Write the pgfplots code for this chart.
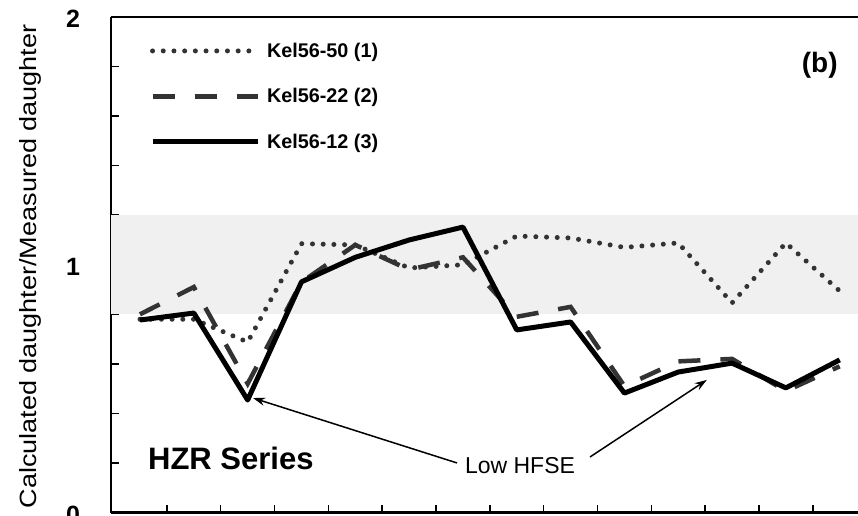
\documentclass[border=0pt]{standalone}
\usepackage{fontspec}
\setmainfont{Liberation Sans}
\usepackage{graphicx}
\usepackage{pgfplots}
\pgfplotsset{compat=1.18}
\usetikzlibrary{arrows.meta}

\definecolor{band}{gray}{0.94}
\definecolor{dgray}{gray}{0.2}

\newcommand{\ticktxt}[1]{\fontsize{25}{25}\selectfont\bfseries #1}
\newcommand{\legtxt}[1]{\fontsize{19.8}{19.8}\selectfont\bfseries #1}

\begin{document}
\begin{tikzpicture}
\begin{axis}[
  scale only axis,
  width=747pt, height=495.5pt,
  xmin=-0.539, xmax=13.34,
  ymin=0, ymax=2,
  axis x line*=bottom, axis y line*=left,
  axis line style={-, line width=2.5pt},
  clip=false,
  tick align=inside,
  xtick={0.5,1.5,...,12.5},
  xticklabels={},
  ytick={0,1,2},
  yticklabels={\ticktxt{0},\ticktxt{1},\ticktxt{2}},
  minor ytick={0.2,0.4,0.6,0.8,1.2,1.4,1.6,1.8},
  major tick length=8pt, minor tick length=8pt,
  every tick/.style={line width=1.5pt, black},
  yticklabel style={anchor=center, xshift=-38pt, yshift=-2pt},
  legend style={at={(rel axis cs:0.048,0.956)}, anchor=north west,
    draw=none, fill=none, row sep=25.5pt,
    /tikz/every odd column/.append style={column sep=5pt}},
  legend cell align=left,
  legend image code/.code={\draw[#1] (0pt,0pt) -- (105pt,0pt);},
]

% shaded 0.8--1.2 band
\fill[band] (rel axis cs:0,0.4) rectangle (rel axis cs:1,0.6);

\addplot[dgray, line width=5pt, line cap=round, dash pattern=on 0pt off 10.7pt] coordinates {
(0,0.78) (1,0.78) (2,0.688) (3,1.085) (4,1.08) (5,0.987) (6,1.0)
(7,1.116) (8,1.108) (9,1.07) (10,1.088) (11,0.846) (12,1.088) (13,0.894)
};
\addlegendentry{\legtxt{Kel56-50 (1)}}

\addplot[dgray, line width=4.5pt, dash pattern=on 22pt off 20pt] coordinates {
(0,0.80) (1,0.91) (2,0.52) (3,0.93) (4,1.08) (5,0.98) (6,1.03)
(7,0.79) (8,0.83) (9,0.51) (10,0.61) (11,0.62) (12,0.49) (13,0.59)
};
\addlegendentry{\legtxt{Kel56-22 (2)}}

\addplot[black, line width=5pt, line join=round] coordinates {
(0,0.777) (1,0.805) (2,0.454) (3,0.931) (4,1.03) (5,1.10) (6,1.152)
(7,0.737) (8,0.769) (9,0.482) (10,0.567) (11,0.603) (12,0.503) (13,0.616)
};
\addlegendentry{\legtxt{Kel56-12 (3)}}

\draw[line width=2.2pt] (rel axis cs:0,1) -- (rel axis cs:1,1);

\node[anchor=west, inner sep=0pt, font=\bfseries\fontsize{31}{31}\selectfont] at (axis cs:0.148,0.22) {HZR Series};
\node[inner sep=0pt, font=\fontsize{23}{23}\selectfont] at (axis cs:7.06,0.19) {Low HFSE};
\draw[-{Stealth[length=12pt,width=8pt]}, line width=1.5pt] (axis cs:5.89,0.20) -- (axis cs:2.10,0.462);
\draw[-{Stealth[length=12pt,width=8pt]}, line width=1.5pt] (axis cs:8.36,0.224) -- (axis cs:10.53,0.535);
\node[inner sep=0pt, font=\bfseries\fontsize{28}{28}\selectfont] at (axis cs:12.63,1.806) {(b)};
\end{axis}

\node[rotate=90, inner sep=0pt, font=\fontsize{23.5}{23.5}\selectfont] at (-81pt,246pt)
  {\scalebox{1.15}[1]{Calculated daughter/Measured daughter}};

\pgfresetboundingbox
\useasboundingbox (-111pt,-2.5pt) rectangle (747pt,512.5pt);
\end{tikzpicture}
\end{document}
